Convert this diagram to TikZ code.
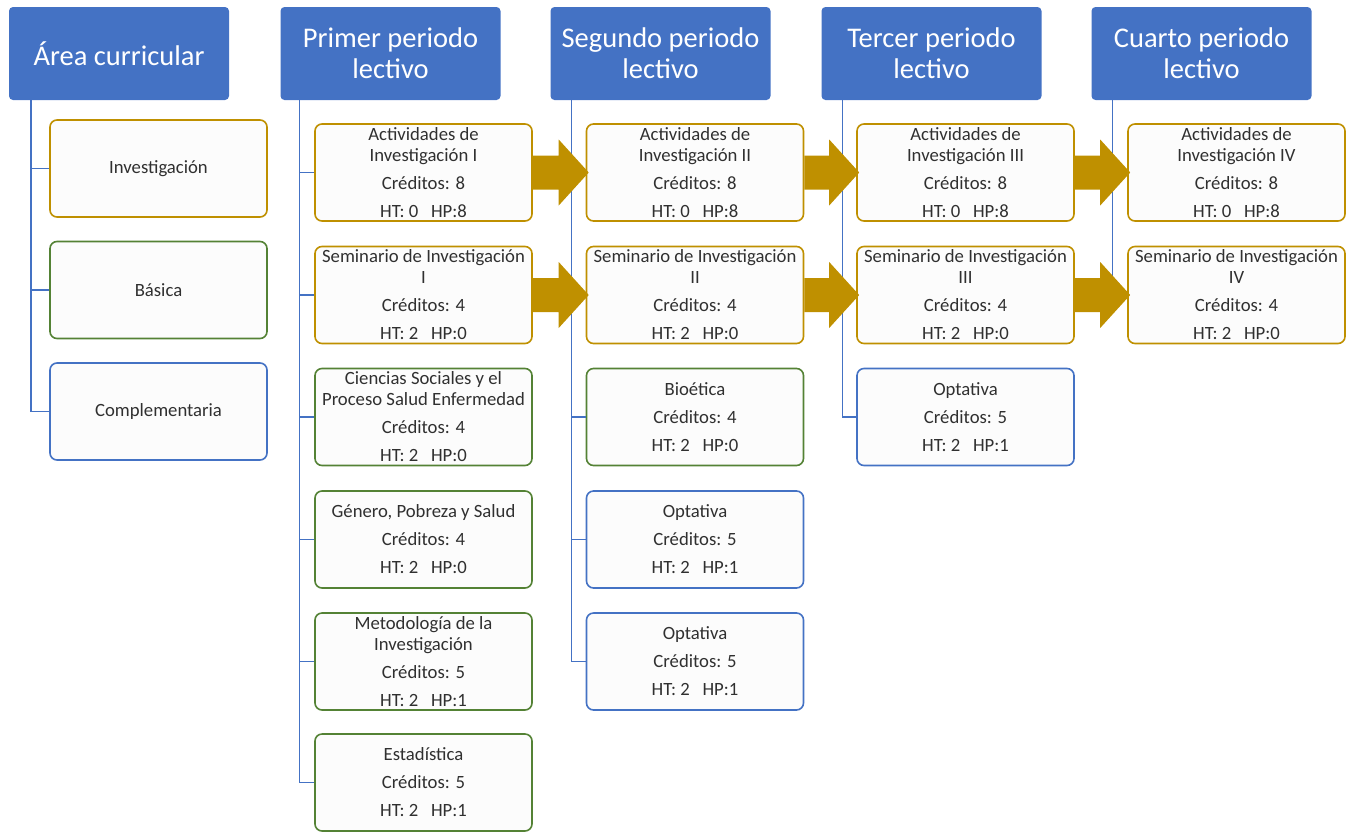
\documentclass[tikz,border=0pt]{standalone}
\usepackage{fontspec}
\setmainfont{Carlito}
\usetikzlibrary{calc}
\definecolor{hdr}{HTML}{4472C4}
\definecolor{gold}{HTML}{BF9000}
\definecolor{grn}{HTML}{548235}
\definecolor{txt}{HTML}{303030}
\definecolor{boxfill}{HTML}{FCFCFC}
\newcommand\blockarr[2]{\fill[gold] ($(#1.east)+(0,-17)$) -- ($(#2.west)+(-27,-17)$) -- ($(#2.west)+(-27,-33)$) -- ($(#2.west)+(3,0)$) -- ($(#2.west)+(-27,33)$) -- ($(#2.west)+(-27,17)$) -- ($(#1.east)+(0,17)$) -- cycle;}
\begin{document}
\begin{tikzpicture}[x=1pt,y=-1pt,
 hdrbox/.style={fill=hdr, draw=none, rounded corners=4pt, minimum width=220pt, minimum height=93pt, text=white, font=\fontsize{28.5}{31}\selectfont, align=center, inner sep=0pt},
 course/.style={fill=boxfill, line width=1.6pt, rounded corners=7pt, minimum width=217pt, minimum height=97pt, text=txt, font=\fontsize{18.7}{21}\selectfont, align=center, inner sep=0pt},
 inv/.style={course, draw=gold}, bas/.style={course, draw=grn}, comp/.style={course, draw=hdr},
 conn/.style={draw=hdr, line width=1.6pt}]
\useasboundingbox (0,0) rectangle (1351,831);
% headers
\node[hdrbox] (h0) at (119,53.5) {Área curricular};
\node[hdrbox] (h1) at (390.5,53.5) {Primer periodo\\lectivo};
\node[hdrbox] (h2) at (660.5,53.5) {Segundo periodo\\lectivo};
\node[hdrbox] (h3) at (931.5,53.5) {Tercer periodo\\lectivo};
\node[hdrbox] (h4) at (1201.5,53.5) {Cuarto periodo\\lectivo};
% trunk coordinates
\coordinate (t0) at ($(h0.south west)+(22,0)$);
\coordinate (t1) at ($(h1.south west)+(19,0)$);
\coordinate (t2) at ($(h2.south west)+(21,0)$);
\coordinate (t3) at ($(h3.south west)+(21,0)$);
\coordinate (t4) at ($(h4.south west)+(21,0)$);
% area
\node[inv] (a1) at (158.5,168.5) {Investigación};
\node[bas] (a2) at (158.5,290) {Básica};
\node[comp] (a3) at (158.5,411.5) {Complementaria};
% primer
\node[inv] (p1) at (423.5,172.5) {Actividades de\\Investigación I\\[7pt]Créditos: 8\\[7pt]HT: 0\ \ \ HP:8};
\node[inv] (p2) at (423.5,295) {Seminario de Investigación\\I\\[7pt]Créditos: 4\\[7pt]HT: 2\ \ \ HP:0};
\node[bas] (p3) at (423.5,417) {Ciencias Sociales y el\\Proceso Salud Enfermedad\\[7pt]Créditos: 4\\[7pt]HT: 2\ \ \ HP:0};
\node[bas] (p4) at (423.5,539.5) {Género, Pobreza y Salud\\[7pt]Créditos: 4\\[7pt]HT: 2\ \ \ HP:0};
\node[bas] (p5) at (423.5,661.5) {Metodología de la\\Investigación\\[7pt]Créditos: 5\\[7pt]HT: 2\ \ \ HP:1};
\node[bas] (p6) at (423.5,782.5) {Estadística\\[7pt]Créditos: 5\\[7pt]HT: 2\ \ \ HP:1};
% segundo
\node[inv] (s1) at (695,172.5) {Actividades de\\Investigación II\\[7pt]Créditos: 8\\[7pt]HT: 0\ \ \ HP:8};
\node[inv] (s2) at (695,295) {Seminario de Investigación\\II\\[7pt]Créditos: 4\\[7pt]HT: 2\ \ \ HP:0};
\node[bas] (s3) at (695,417) {Bioética\\[7pt]Créditos: 4\\[7pt]HT: 2\ \ \ HP:0};
\node[comp] (s4) at (695,539.5) {Optativa\\[7pt]Créditos: 5\\[7pt]HT: 2\ \ \ HP:1};
\node[comp] (s5) at (695,661.5) {Optativa\\[7pt]Créditos: 5\\[7pt]HT: 2\ \ \ HP:1};
% tercer
\node[inv] (r1) at (965.5,172.5) {Actividades de\\Investigación III\\[7pt]Créditos: 8\\[7pt]HT: 0\ \ \ HP:8};
\node[inv] (r2) at (965.5,295) {Seminario de Investigación\\III\\[7pt]Créditos: 4\\[7pt]HT: 2\ \ \ HP:0};
\node[comp] (r3) at (965.5,417) {Optativa\\[7pt]Créditos: 5\\[7pt]HT: 2\ \ \ HP:1};
% cuarto
\node[inv] (c1) at (1236.5,172.5) {Actividades de\\Investigación IV\\[7pt]Créditos: 8\\[7pt]HT: 0\ \ \ HP:8};
\node[inv] (c2) at (1236.5,295) {Seminario de Investigación\\IV\\[7pt]Créditos: 4\\[7pt]HT: 2\ \ \ HP:0};
% connectors
\foreach \b in {a1,a2,a3} \draw[conn] (t0) |- (\b.west);
\foreach \b in {p1,p2,p3,p4,p5,p6} \draw[conn] (t1) |- (\b.west);
\foreach \b in {s1,s2,s3,s4,s5} \draw[conn] (t2) |- (\b.west);
\foreach \b in {r1,r2,r3} \draw[conn] (t3) |- (\b.west);
\foreach \b in {c1,c2} \draw[conn] (t4) |- (\b.west);
% block arrows
\blockarr{p1}{s1}
\blockarr{p2}{s2}
\blockarr{s1}{r1}
\blockarr{s2}{r2}
\blockarr{r1}{c1}
\blockarr{r2}{c2}
\end{tikzpicture}
\end{document}
